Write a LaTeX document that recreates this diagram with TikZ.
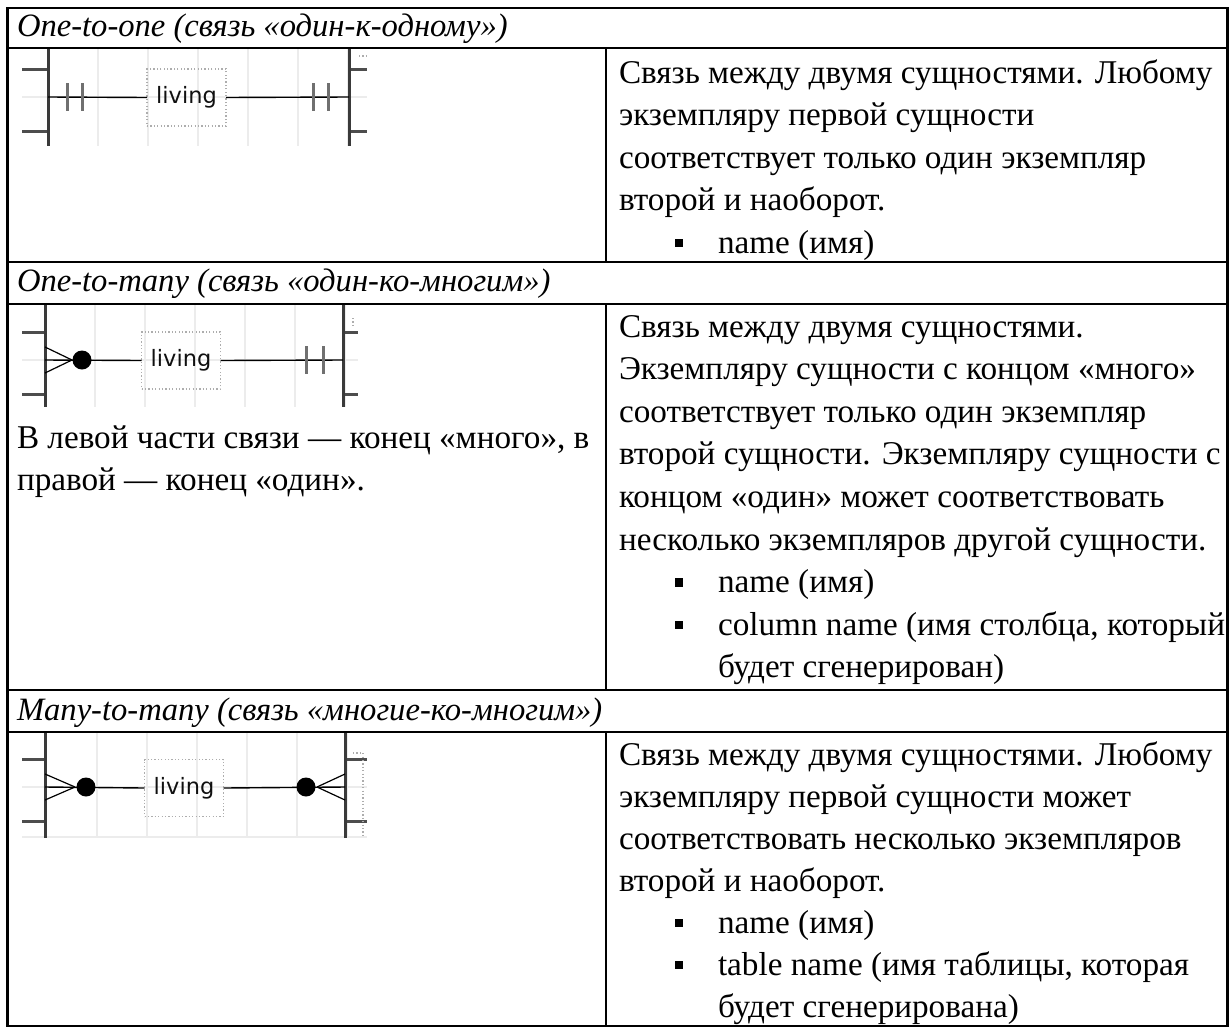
\documentclass[tikz,border=0pt]{standalone}
\usepackage{fontspec}
\setmainfont{Liberation Serif}
\newfontfamily\erfont{DejaVu Sans}
\definecolor{gridgray}{HTML}{ECECEC}
\definecolor{bargray}{HTML}{3A3A3A}
\definecolor{stubgray}{HTML}{4D4D4D}
\definecolor{tickgray}{HTML}{707070}
\definecolor{lblgray}{HTML}{ADADAD}
\definecolor{labeltext}{HTML}{101010}
\begin{document}
\begin{tikzpicture}[x=1pt,y=-1pt,
  frame/.style={line width=2.5pt},
  txt/.style={anchor=base west, inner sep=0pt, outer sep=0pt, font=\fontsize{33.2}{42}\selectfont},
  hdr/.style={anchor=base west, inner sep=0pt, outer sep=0pt, font=\fontsize{32.6}{36}\selectfont\itshape},
  bul/.style={fill=black, minimum width=8pt, minimum height=8.5pt, inner sep=0pt, outer sep=0pt, anchor=south west},
  gridln/.style={draw=gridgray, line width=2pt},
  bar/.style={draw=bargray, line width=3pt},
  stub/.style={draw=stubgray, line width=3pt},
  tick/.style={draw=tickgray, line width=3pt},
  rel/.style={draw=black, line width=1.4pt},
  crow/.style={draw=black, line width=1.2pt},
  dot/.style={fill=black, circle, minimum size=19pt, inner sep=0pt, outer sep=0pt},
  lbl/.style={draw=lblgray, dash pattern=on 1.2pt off 2.2pt, line width=1.2pt,
    font=\erfont\fontsize{22.5}{22.5}\selectfont, text=labeltext,
    minimum width=79pt, minimum height=57pt, inner sep=0pt, outer sep=0pt},
  faint/.style={draw=lblgray, dash pattern=on 1.2pt off 2.2pt, line width=1.2pt},
]
\useasboundingbox (0,0) rectangle (1230,1028);
\fill[white] (0,0) rectangle (1230,1028);

% ---------- table rules ----------
\draw[frame] (7.5,8) rectangle (1227.5,1026);
\foreach \yy in {48,262,304,690,732}
  \draw[frame] (7.5,\yy) -- (1227.5,\yy);
\draw[frame] (606,48) -- (606,262);
\draw[frame] (606,304) -- (606,690);
\draw[frame] (606,732) -- (606,1026);

% ---------- headers ----------
\node[hdr] (h1) at (17,36) {One-to-one (связь «один-к-одному»)};
\node[hdr] (h2) at (17,291) {One-to-many (связь «один-ко-многим»)};
\node[hdr] (h3) at (17,720) {Many-to-many (связь «многие-ко-многим»)};

% ---------- row 1: one-to-one ----------
\begin{scope}
  \clip (22,49) rectangle (367,146);
  \foreach \xx in {98,148,...,348} \draw[gridln] (\xx,49) -- (\xx,146);
  \draw[gridln] (22,97) -- (367,97);
\end{scope}
\coordinate (b1l) at (48,97);
\coordinate (b1r) at (349,97);
\draw[stub] (22,69) -- (48,69) (22,131) -- (48,131);
\draw[stub] (349,69) -- (367,69) (349,131) -- (367,131);
\draw[bar] (48,49) -- (48,146);
\draw[bar] (349,49) -- (349,146);
\node[lbl] (lab1) at (186.5,97.5) {living};
\draw[rel] (b1l) -- (lab1.west);
\draw[rel] (lab1.east) -- (b1r);
\draw[tick] (67,83) -- (67,111) (82,83) -- (82,111);
\draw[tick] (313,83) -- (313,111) (328,83) -- (328,111);
\draw[faint] (359,56) -- (366,56);

\node[txt] (r1a) at (619,83) {Связь между двумя сущностями. Любому};
\node[txt] (r1b) at (619,125.6) {экземпляру первой сущности};
\node[txt] (r1c) at (619,168.2) {соответствует только один экземпляр};
\node[txt] (r1d) at (619,210.8) {второй и наоборот.};
\node[bul] (r1s) at (675,247.4) {};
\node[txt] (r1e) at (718,253.4) {name (имя)};

% ---------- row 2: one-to-many ----------
\begin{scope}
  \clip (22,305) rectangle (358,407);
  \foreach \xx in {95,145,...,345} \draw[gridln] (\xx,305) -- (\xx,407);
  \draw[gridln] (22,360) -- (358,360);
\end{scope}
\coordinate (b2l) at (45,360);
\coordinate (b2r) at (343,360);
\coordinate (c2l) at (72,360);
\draw[stub] (22,332) -- (45,332) (22,394) -- (45,394);
\draw[stub] (343,332) -- (358,332) (343,394) -- (358,394);
\draw[bar] (45,305) -- (45,407);
\draw[bar] (343,305) -- (343,407);
\node[lbl] (lab2) at (181,360.5) {living};
\draw[crow] (45,347) -- (c2l) (45,373) -- (c2l);
\draw[rel] (b2l) -- (lab2.west);
\draw[rel] (lab2.east) -- (b2r);
\node[dot] (d2l) at (82,360) {};
\draw[tick] (306,346) -- (306,374) (323,346) -- (323,374);
\draw[faint] (353,318) -- (353,328);

\node[txt] (l2a) at (17,448) {В левой части связи — конец «много», в};
\node[txt] (l2b) at (17,490.6) {правой — конец «один».};

\node[txt] (r2a) at (619,337) {Связь между двумя сущностями.};
\node[txt] (r2b) at (619,379.6) {Экземпляру сущности с концом «много»};
\node[txt] (r2c) at (619,422.2) {соответствует только один экземпляр};
\node[txt] (r2d) at (619,464.8) {второй сущности. Экземпляру сущности с};
\node[txt] (r2e) at (619,507.4) {концом «один» может соответствовать};
\node[txt] (r2f) at (619,550) {несколько экземпляров другой сущности.};
\node[bul] (r2s1) at (675,586.6) {};
\node[txt] (r2g) at (718,592.6) {name (имя)};
\node[bul] (r2s2) at (675,629.2) {};
\node[txt] (r2h) at (718,635.2) {column name (имя столбца, который};
\node[txt] (r2i) at (718,677.8) {будет сгенерирован)};

% ---------- row 3: many-to-many ----------
\begin{scope}
  \clip (22,733) rectangle (367,838);
  \foreach \xx in {97,147,...,347} \draw[gridln] (\xx,733) -- (\xx,838);
  \draw[gridln] (22,787) -- (367,787) (22,837) -- (367,837);
\end{scope}
\coordinate (b3l) at (45,787);
\coordinate (b3r) at (345,787);
\coordinate (c3l) at (75,787);
\coordinate (c3r) at (317,787);
\draw[stub] (22,759) -- (45,759) (22,821) -- (45,821);
\draw[stub] (345,759) -- (367,759) (345,821) -- (367,821);
\draw[bar] (45,733) -- (45,838);
\draw[bar] (345,733) -- (345,838);
\node[lbl] (lab3) at (184,788) {living};
\draw[crow] (45,774) -- (c3l) (45,800) -- (c3l);
\draw[crow] (345,774) -- (c3r) (345,800) -- (c3r);
\draw[rel] (b3l) -- (lab3.west);
\draw[rel] (lab3.east) -- (b3r);
\node[dot] (d3l) at (86,787) {};
\node[dot] (d3r) at (306,787) {};
\draw[faint] (353,753) -- (363,753) -- (363,838);

\node[txt] (r3a) at (619,765) {Связь между двумя сущностями. Любому};
\node[txt] (r3b) at (619,807) {экземпляру первой сущности может};
\node[txt] (r3c) at (619,849) {соответствовать несколько экземпляров};
\node[txt] (r3d) at (619,891) {второй и наоборот.};
\node[bul] (r3s1) at (675,927) {};
\node[txt] (r3e) at (718,933) {name (имя)};
\node[bul] (r3s2) at (675,969) {};
\node[txt] (r3f) at (718,975) {table name (имя таблицы, которая};
\node[txt] (r3g) at (718,1017) {будет сгенерирована)};
\end{tikzpicture}
\end{document}
